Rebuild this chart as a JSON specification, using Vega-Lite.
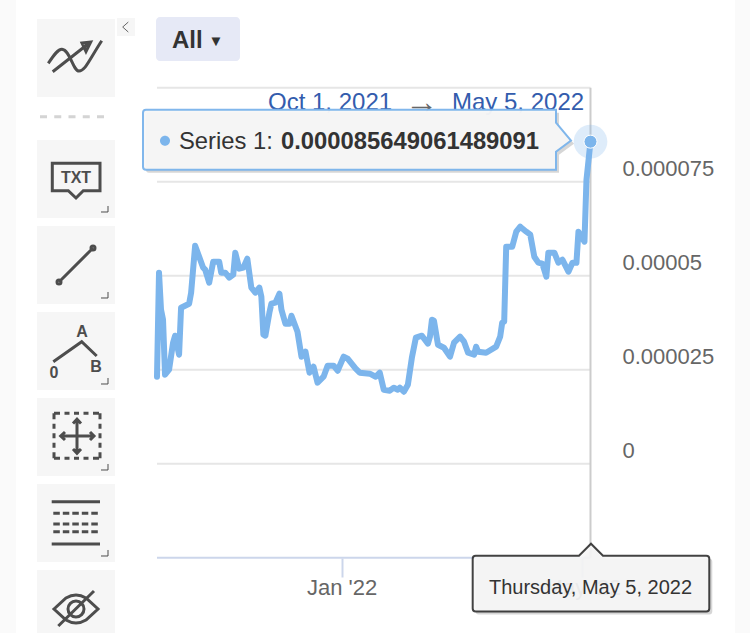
{
  "$schema": "https://vega.github.io/schema/vega-lite/v6.json",
  "width": 750,
  "height": 633,
  "autosize": "none",
  "padding": 0,
  "background": "#ffffff",
  "config": {
    "view": {"stroke": null},
    "font": "Liberation Sans",
    "text": {"font": "Liberation Sans"}
  },
  "datasets": {
    "series": [
      {"date": "2021-10-01", "value": 0.00002314},
      {"date": "2021-10-02", "value": 0.0000508},
      {"date": "2021-10-03", "value": 0.00004096},
      {"date": "2021-10-04", "value": 0.0000383},
      {"date": "2021-10-05", "value": 0.00002367},
      {"date": "2021-10-07", "value": 0.000025},
      {"date": "2021-10-09", "value": 0.00003218},
      {"date": "2021-10-10", "value": 0.00003404},
      {"date": "2021-10-12", "value": 0.00002899},
      {"date": "2021-10-13", "value": 0.00004149},
      {"date": "2021-10-17", "value": 0.00004255},
      {"date": "2021-10-18", "value": 0.00004548},
      {"date": "2021-10-20", "value": 0.00005798},
      {"date": "2021-10-24", "value": 0.00005213},
      {"date": "2021-10-25", "value": 0.0000516},
      {"date": "2021-10-27", "value": 0.00004814},
      {"date": "2021-10-29", "value": 0.00005372},
      {"date": "2021-11-01", "value": 0.00005372},
      {"date": "2021-11-02", "value": 0.0000508},
      {"date": "2021-11-04", "value": 0.0000508},
      {"date": "2021-11-06", "value": 0.00004947},
      {"date": "2021-11-08", "value": 0.00005027},
      {"date": "2021-11-09", "value": 0.00005612},
      {"date": "2021-11-11", "value": 0.00005186},
      {"date": "2021-11-13", "value": 0.00005213},
      {"date": "2021-11-15", "value": 0.00005452},
      {"date": "2021-11-17", "value": 0.00004681},
      {"date": "2021-11-19", "value": 0.00004548},
      {"date": "2021-11-21", "value": 0.00004681},
      {"date": "2021-11-22", "value": 0.00004442},
      {"date": "2021-11-23", "value": 0.00003431},
      {"date": "2021-11-24", "value": 0.00003404},
      {"date": "2021-11-26", "value": 0.00004016},
      {"date": "2021-11-27", "value": 0.00004255},
      {"date": "2021-11-29", "value": 0.00004282},
      {"date": "2021-12-01", "value": 0.00004521},
      {"date": "2021-12-02", "value": 0.00004096},
      {"date": "2021-12-04", "value": 0.00003723},
      {"date": "2021-12-06", "value": 0.00003723},
      {"date": "2021-12-07", "value": 0.00003936},
      {"date": "2021-12-10", "value": 0.00003511},
      {"date": "2021-12-12", "value": 0.00002846},
      {"date": "2021-12-14", "value": 0.00002979},
      {"date": "2021-12-16", "value": 0.0000242},
      {"date": "2021-12-18", "value": 0.0000258},
      {"date": "2021-12-20", "value": 0.00002154},
      {"date": "2021-12-23", "value": 0.00002314},
      {"date": "2021-12-25", "value": 0.00002606},
      {"date": "2021-12-28", "value": 0.00002606},
      {"date": "2021-12-30", "value": 0.00002473},
      {"date": "2022-01-02", "value": 0.00002846},
      {"date": "2022-01-04", "value": 0.00002793},
      {"date": "2022-01-08", "value": 0.00002527},
      {"date": "2022-01-10", "value": 0.0000242},
      {"date": "2022-01-15", "value": 0.00002394},
      {"date": "2022-01-18", "value": 0.00002314},
      {"date": "2022-01-20", "value": 0.0000242},
      {"date": "2022-01-22", "value": 0.00001968},
      {"date": "2022-01-25", "value": 0.00001941},
      {"date": "2022-01-27", "value": 0.00002021},
      {"date": "2022-01-29", "value": 0.00001968},
      {"date": "2022-01-30", "value": 0.00002021},
      {"date": "2022-02-01", "value": 0.00001915},
      {"date": "2022-02-03", "value": 0.00002101},
      {"date": "2022-02-05", "value": 0.00002819},
      {"date": "2022-02-07", "value": 0.00003351},
      {"date": "2022-02-10", "value": 0.00003404},
      {"date": "2022-02-13", "value": 0.00003192},
      {"date": "2022-02-14", "value": 0.00003378},
      {"date": "2022-02-15", "value": 0.0000383},
      {"date": "2022-02-16", "value": 0.00003803},
      {"date": "2022-02-18", "value": 0.00003165},
      {"date": "2022-02-21", "value": 0.00003085},
      {"date": "2022-02-24", "value": 0.00002846},
      {"date": "2022-02-26", "value": 0.00003218},
      {"date": "2022-03-01", "value": 0.00003378},
      {"date": "2022-03-03", "value": 0.00003245},
      {"date": "2022-03-05", "value": 0.00002952},
      {"date": "2022-03-08", "value": 0.00002899},
      {"date": "2022-03-09", "value": 0.00003112},
      {"date": "2022-03-10", "value": 0.00002979},
      {"date": "2022-03-14", "value": 0.00002952},
      {"date": "2022-03-19", "value": 0.00003112},
      {"date": "2022-03-21", "value": 0.00003378},
      {"date": "2022-03-22", "value": 0.0000375},
      {"date": "2022-03-23", "value": 0.00003777},
      {"date": "2022-03-24", "value": 0.00005771},
      {"date": "2022-03-27", "value": 0.00005771},
      {"date": "2022-03-29", "value": 0.0000617},
      {"date": "2022-03-31", "value": 0.00006303},
      {"date": "2022-04-03", "value": 0.0000617},
      {"date": "2022-04-05", "value": 0.0000609},
      {"date": "2022-04-07", "value": 0.00005505},
      {"date": "2022-04-09", "value": 0.00005346},
      {"date": "2022-04-11", "value": 0.00005319},
      {"date": "2022-04-13", "value": 0.00004973},
      {"date": "2022-04-14", "value": 0.00005612},
      {"date": "2022-04-17", "value": 0.00005612},
      {"date": "2022-04-19", "value": 0.00005346},
      {"date": "2022-04-21", "value": 0.00005426},
      {"date": "2022-04-24", "value": 0.00005106},
      {"date": "2022-04-26", "value": 0.00005346},
      {"date": "2022-04-28", "value": 0.00005346},
      {"date": "2022-04-29", "value": 0.0000617},
      {"date": "2022-05-02", "value": 0.00005904},
      {"date": "2022-05-03", "value": 0.00007553},
      {"date": "2022-05-05", "value": 0.000085649061489091}
    ],
    "hover": [
      {"date": "2022-05-05", "value": 0.000085649061489091, "name": "Series 1:", "reading": "0.000085649061489091", "day": "Thursday, May 5, 2022", "floor": -0.000025, "top": 0.0001}
    ],
    "gridlines": [
      {"value": 0.0001, "from": "2021-10-01", "to": "2022-05-05"},
      {"value": 0.000075, "from": "2021-10-01", "to": "2022-05-05"},
      {"value": 0.00005, "from": "2021-10-01", "to": "2022-05-05"},
      {"value": 0.000025, "from": "2021-10-01", "to": "2022-05-05"},
      {"value": 0, "from": "2021-10-01", "to": "2022-05-05"}
    ],
    "tools": [
      {"tool": "trend", "lane": 76, "slot": -1.407},
      {"tool": "text", "lane": 76, "slot": 0},
      {"tool": "line", "lane": 76, "slot": 1},
      {"tool": "fib", "lane": 76, "slot": 2},
      {"tool": "measure", "lane": 76, "slot": 3},
      {"tool": "lines", "lane": 76, "slot": 4},
      {"tool": "eye", "lane": 76, "slot": 5}
    ]
  },
  "layer": [
    {
      "encoding": {
        "x": {"field": "lane", "type": "quantitative", "axis": null, "scale": {"domain": [0, 750]}},
        "y": {"field": "slot", "type": "quantitative", "axis": null, "scale": {"domain": [5.2791, -2.0814]}}
      },
      "layer": [
        {
          "data": {"values": [{"lane": 0, "lane2": 16}, {"lane": 735, "lane2": 750}]},
          "mark": {"type": "rect", "fill": "#fafafa"},
          "encoding": {"x2": {"field": "lane2"}, "y": null}
        },
        {
          "data": {"name": "tools"},
          "mark": {"type": "point", "shape": "square", "size": 6084, "filled": true, "fill": "#f6f6f6", "opacity": 1, "strokeWidth": 0}
        },
        {
          "data": {"values": [{"lane": 126, "slot": -1.767}]},
          "mark": {"type": "point", "shape": "square", "size": 324, "filled": true, "fill": "#f6f6f6", "opacity": 1, "strokeWidth": 0}
        },
        {
          "data": {"values": [{"lane": 126, "slot": -1.767}]},
          "mark": {"type": "point", "shape": "M2.3 -5 L-3.3 0 L2.3 5", "size": 4, "filled": false, "opacity": 1, "stroke": "#666666", "strokeWidth": 1}
        },
        {
          "data": {"values": [{"lane": 76, "slot": -0.724}]},
          "mark": {"type": "point", "shape": "M-36 0 h7 m7.25 0 h7 m7.25 0 h7 m7.25 0 h7 m7.25 0 h7", "size": 4, "filled": false, "opacity": 1, "stroke": "#d4d4d4", "strokeWidth": 3}
        },
        {
          "data": {"name": "tools"},
          "mark": {"type": "point", "size": 4, "filled": false, "opacity": 1, "stroke": "#4d4d4d", "strokeWidth": 3},
          "encoding": {
            "shape": {
              "field": "tool",
              "type": "nominal",
              "legend": null,
              "scale": {
                "domain": ["trend", "text", "line", "fib", "measure", "lines", "eye"],
                "range": [
                  "M-27.7 5.3 C-22 -3 -18 -9 -14 -8.7 C-6 -8 -3 13 3 13 C9 13 12 4 25.7 -17.3 M-23.3 13.7 L12 -14 M6 -15 L14.7 -16 L10 -6.5 Z",
                  "M-23.7 -15.7 H24 V11.7 H7.3 L0 19 L-7.7 11.7 H-23.7 Z",
                  "M-17 17 L17 -17 M-19 17 a2 2 0 1 0 4 0 a2 2 0 1 0 -4 0 M15 -17 a2 2 0 1 0 4 0 a2 2 0 1 0 -4 0",
                  "M-22.7 10.7 L5.7 -9.3 L20.7 5",
                  "M-22 -23.7 h6 m4.5 0 h5 m4.5 0 h5 m4.5 0 h5 m4.5 0 h6 M24 -23.7 v6 m0 4.5 v5 m0 4.5 v5 m0 4.5 v5 m0 4.5 v6 M-22 21.3 h6 m4.5 0 h5 m4.5 0 h5 m4.5 0 h5 m4.5 0 h6 M-22 -23.7 v6 m0 4.5 v5 m0 4.5 v5 m0 4.5 v5 m0 4.5 v6 M-15.3 -1 H18 M1 -17.7 V16.3 M-11 -5 L-15.3 -1 L-11 3 M14 -5 L18 -1 L14 3 M-3 -13.5 L1 -17.7 L5 -13.5 M-3 12 L1 16.3 L5 12",
                  "M-24.3 -21.3 H24 M-24.3 21 H24 M-22.7 -9.7 h6.5 m3 0 h6.5 m3 0 h6.5 m3 0 h6.5 m3 0 h6.5 M-22.7 1 h6.5 m3 0 h6.5 m3 0 h6.5 m3 0 h6.5 m3 0 h6.5 M-22.7 8.7 h6.5 m3 0 h6.5 m3 0 h6.5 m3 0 h6.5 m3 0 h6.5",
                  "M-22 0 L-10 -11 Q0 -17 10 -11 L22 0 L10 11 Q0 17 -10 11 Z M-8 0 a8 8 0 1 0 16 0 a8 8 0 1 0 -16 0 M-17.7 17 L18 -18"
                ]
              }
            }
          }
        },
        {
          "data": {"name": "tools"},
          "transform": [{"filter": "datum.tool != 'trend' && datum.tool != 'eye'"}],
          "mark": {"type": "point", "shape": "M32 27 V33 H25", "size": 4, "filled": false, "opacity": 1, "stroke": "#4d4d4d", "strokeWidth": 1}
        },
        {
          "data": {"values": [{"lane": 76, "slot": -0.015, "glyph": "TXT"}]},
          "mark": {"type": "text", "fontSize": 16, "fontWeight": "bold", "fill": "#4d4d4d", "align": "center", "baseline": "middle"},
          "encoding": {"text": {"field": "glyph"}}
        },
        {
          "data": {"values": [
            {"lane": 82, "slot": 1.776, "glyph": "A"},
            {"lane": 54, "slot": 2.252, "glyph": "0"},
            {"lane": 96, "slot": 2.19, "glyph": "B"}
          ]},
          "mark": {"type": "text", "fontSize": 16, "fontWeight": "bold", "fill": "#4d4d4d", "align": "center", "baseline": "middle"},
          "encoding": {"text": {"field": "glyph"}}
        },
        {
          "data": {"values": [{"lane": 156, "lane2": 240, "slot": -1.884, "slot2": -1.372}]},
          "mark": {"type": "rect", "fill": "#e6e9f6", "cornerRadius": 4},
          "encoding": {"x2": {"field": "lane2"}, "y2": {"field": "slot2"}}
        },
        {
          "data": {"values": [{"lane": 172, "slot": -1.605, "glyph": "All"}]},
          "mark": {"type": "text", "fontSize": 24, "fontWeight": "bold", "fill": "#333333", "align": "left", "baseline": "middle"},
          "encoding": {"text": {"field": "glyph"}}
        },
        {
          "data": {"values": [{"lane": 216, "slot": -1.61, "glyph": "▼"}]},
          "mark": {"type": "text", "fontSize": 15, "fill": "#333333", "align": "center", "baseline": "middle"},
          "encoding": {"text": {"field": "glyph"}}
        },
        {
          "data": {"values": [
            {"lane": 268, "slot": -0.884, "glyph": "Oct 1, 2021"},
            {"lane": 452, "slot": -0.884, "glyph": "May 5, 2022"}
          ]},
          "mark": {"type": "text", "fontSize": 24, "fill": "#335cad", "align": "left", "baseline": "middle"},
          "encoding": {"text": {"field": "glyph"}}
        },
        {
          "data": {"values": [{"lane": 405, "slot": -0.884, "glyph": "→"}]},
          "mark": {"type": "text", "fontSize": 33, "fill": "#666666", "align": "left", "baseline": "middle"},
          "encoding": {"text": {"field": "glyph"}}
        }
      ]
    },
    {
      "encoding": {
        "x": {
          "field": "date",
          "type": "temporal",
          "scale": {"type": "utc", "domain": ["2021-07-14T18:30:00Z", "2022-07-23T11:30:00Z"]},
          "axis": {
            "orient": "bottom",
            "offset": -75,
            "title": null,
            "grid": false,
            "domain": false,
            "values": [{"year": 2022, "month": 1, "date": 1, "utc": true}, {"year": 2022, "month": 5, "date": 1, "utc": true}],
            "format": "%b '%y",
            "tickSize": 19,
            "tickWidth": 2,
            "tickColor": "#ccd6eb",
            "labelFontSize": 22,
            "labelColor": "#666666",
            "labelPadding": 0,
            "labelOverlap": false,
            "labelFlush": false
          }
        },
        "y": {
          "field": "value",
          "type": "quantitative",
          "scale": {"domain": [-0.000045027, 0.000123326], "nice": false, "zero": false},
          "axis": {
            "orient": "right",
            "title": null,
            "grid": false,
            "domain": false,
            "ticks": false,
            "values": [0, 0.000025, 0.00005, 0.000075],
            "format": ".6~f",
            "labelPadding": -128,
            "labelOffset": -13,
            "labelFontSize": 22,
            "labelColor": "#666666",
            "labelAlign": "left",
            "labelOverlap": false
          }
        }
      },
      "layer": [
        {
          "data": {"name": "gridlines"},
          "mark": {"type": "rule", "stroke": "#e6e6e6", "strokeWidth": 2},
          "encoding": {"x": {"field": "from", "type": "temporal"}, "x2": {"field": "to"}}
        },
        {
          "data": {"values": [{"value": -0.000025, "from": "2021-10-01", "to": "2022-05-05"}]},
          "mark": {"type": "rule", "stroke": "#ccd6eb", "strokeWidth": 2},
          "encoding": {"x": {"field": "from", "type": "temporal"}, "x2": {"field": "to"}}
        },
        {
          "data": {"name": "hover"},
          "mark": {"type": "rule", "stroke": "#cccccc", "strokeWidth": 2},
          "encoding": {"y": {"field": "top", "type": "quantitative"}, "y2": {"field": "floor"}}
        },
        {
          "data": {"name": "series"},
          "mark": {"type": "line", "stroke": "#7cb5ec", "strokeWidth": 6, "strokeJoin": "round", "strokeCap": "round"}
        },
        {
          "data": {"name": "hover"},
          "mark": {"type": "point", "shape": "circle", "size": 1134, "filled": true, "fill": "#7cb5ec", "opacity": 0.25, "strokeWidth": 0}
        },
        {
          "data": {"name": "hover"},
          "mark": {"type": "point", "shape": "circle", "size": 170, "filled": true, "fill": "#7cb5ec", "opacity": 1, "stroke": "#ffffff", "strokeWidth": 1}
        },
        {
          "data": {"name": "hover"},
          "mark": {"type": "point", "shape": "M-441.5 -29 H-31.5 V-16 L-16.5 2 L-31.5 13 V31 H-441.5 Q-444.5 31 -444.5 28 V-26 Q-444.5 -29 -441.5 -29 Z", "size": 4, "filled": true, "fill": "#000000", "opacity": 0.16, "strokeWidth": 0}
        },
        {
          "data": {"name": "hover"},
          "mark": {"type": "point", "shape": "M-444.5 -32 H-34.5 V-19 L-19.5 -1 L-34.5 10 V28 H-444.5 Q-447.5 28 -447.5 25 V-29 Q-447.5 -32 -444.5 -32 Z", "size": 4, "filled": true, "fill": "#f7f7f7", "opacity": 0.96, "stroke": "#7cb5ec", "strokeWidth": 2}
        },
        {
          "data": {"name": "hover"},
          "mark": {"type": "point", "shape": "M-430.5 -1 a5 5 0 1 0 10 0 a5 5 0 1 0 -10 0 Z", "size": 4, "filled": true, "fill": "#7cb5ec", "opacity": 1, "strokeWidth": 0}
        },
        {
          "data": {"name": "hover"},
          "mark": {"type": "text", "fontSize": 23.8, "fill": "#333333", "align": "left", "baseline": "middle", "dx": -411.5},
          "encoding": {"text": {"field": "name"}}
        },
        {
          "data": {"name": "hover"},
          "mark": {"type": "text", "fontSize": 23.8, "fontWeight": "bold", "fill": "#333333", "align": "left", "baseline": "middle", "dx": -309.5},
          "encoding": {"text": {"field": "reading"}}
        },
        {
          "data": {"name": "hover"},
          "mark": {"type": "point", "shape": "M-114.8 1 H-8.5 L3.5 -11 L15.5 1 H118.8 Q121.8 1 121.8 4 V53.7 Q121.8 56.7 118.8 56.7 H-111.8 Q-114.8 56.7 -114.8 53.7 V4 Q-114.8 1 -111.8 1 Z", "size": 4, "filled": true, "fill": "#000000", "opacity": 0.16, "strokeWidth": 0},
          "encoding": {"y": {"field": "floor", "type": "quantitative"}}
        },
        {
          "data": {"name": "hover"},
          "mark": {"type": "point", "shape": "M-114.8 -2 H-11.5 L0.5 -14 L12.5 -2 H115.8 Q118.8 -2 118.8 1 V50.7 Q118.8 53.7 115.8 53.7 H-114.8 Q-117.8 53.7 -117.8 50.7 V1 Q-117.8 -2 -114.8 -2 Z", "size": 4, "filled": true, "fill": "#f7f7f7", "opacity": 0.92, "stroke": "#333333", "strokeWidth": 2},
          "encoding": {"y": {"field": "floor", "type": "quantitative"}}
        },
        {
          "data": {"name": "hover"},
          "mark": {"type": "text", "fontSize": 20, "fill": "#333333", "align": "center", "baseline": "middle", "dy": 30},
          "encoding": {"y": {"field": "floor", "type": "quantitative"}, "text": {"field": "day"}}
        }
      ]
    }
  ],
  "resolve": {"scale": {"x": "independent", "y": "independent"}}
}
